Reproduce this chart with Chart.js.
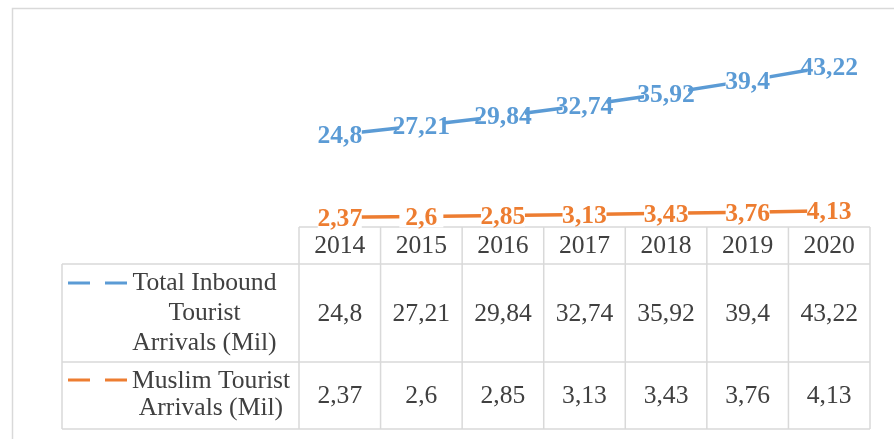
<!DOCTYPE html>
<html>
<head>
<meta charset="utf-8">
<script src="https://cdn.jsdelivr.net/npm/chart.js@4/dist/chart.umd.min.js"></script>
<style>
  html, body { margin: 0; padding: 0; background: #ffffff; }
  #wrap { width: 894px; height: 439px; }
</style>
</head>
<body>
<div id="wrap"><canvas id="c" width="894" height="439"></canvas></div>
<script>
const years = ['2014', '2015', '2016', '2017', '2018', '2019', '2020'];
const totalInbound = [24.8, 27.21, 29.84, 32.74, 35.92, 39.4, 43.22];
const muslimArrivals = [2.37, 2.6, 2.85, 3.13, 3.43, 3.76, 4.13];
const seriesNames = [
  ['Total Inbound', 'Tourist', 'Arrivals (Mil)'],
  ['Muslim Tourist', 'Arrivals (Mil)']
];
const blue = '#5B9BD5';
const orange = '#ED7D31';
const gridCol = '#d9d9d9';
const textCol = '#404040';
const fmt = v => String(v).replace('.', ',');

const tablePlugin = {
  id: 'dataTable',
  beforeDatasetsDraw(chart) {
    const ctx = chart.ctx;
    const xs = chart.scales.x;
    const band = chart.chartArea.width / years.length;
    const left = chart.chartArea.left, right = chart.chartArea.right;
    const legLeft = 62;
    const rowTop = 227, hdrBot = 264, r1Bot = 362, r2Bot = 429;
    ctx.save();
    ctx.strokeStyle = gridCol;
    ctx.lineWidth = 1.5;
    ctx.beginPath();
    ctx.moveTo(12.5, 439); ctx.lineTo(12.5, 8.5); ctx.lineTo(894, 8.5);
    ctx.stroke();
    ctx.lineWidth = 1.5;
    ctx.beginPath();
    ctx.moveTo(left, rowTop); ctx.lineTo(right, rowTop);
    ctx.moveTo(legLeft, hdrBot); ctx.lineTo(right, hdrBot);
    ctx.moveTo(legLeft, r1Bot); ctx.lineTo(right, r1Bot);
    ctx.moveTo(legLeft, r2Bot); ctx.lineTo(right, r2Bot);
    ctx.moveTo(legLeft, hdrBot); ctx.lineTo(legLeft, r2Bot);
    for (let i = 0; i <= years.length; i++) {
      const x = left + i * band;
      ctx.moveTo(x, rowTop); ctx.lineTo(x, r2Bot);
    }
    ctx.stroke();
    ctx.fillStyle = textCol;
    ctx.font = '25.6px "Liberation Serif", "Times New Roman", serif';
    ctx.textAlign = 'center';
    ctx.textBaseline = 'middle';
    years.forEach((y, i) => {
      const cx = xs.getPixelForValue(i);
      ctx.fillText(y, cx, 246.5);
      ctx.fillText(fmt(totalInbound[i]), cx, 314);
      ctx.fillText(fmt(muslimArrivals[i]), cx, 396);
    });
    const keyDraw = (col, y) => {
      ctx.strokeStyle = col;
      ctx.lineWidth = 3;
      ctx.beginPath();
      ctx.moveTo(68, y); ctx.lineTo(90, y);
      ctx.moveTo(105, y); ctx.lineTo(127, y);
      ctx.stroke();
    };
    keyDraw(blue, 283);
    keyDraw(orange, 380);
    ctx.fillStyle = textCol;
    const l1 = [283, 313, 343];
    seriesNames[0].forEach((t, i) => ctx.fillText(t, 204.5, l1[i]));
    const l2 = [381, 408];
    seriesNames[1].forEach((t, i) => ctx.fillText(t, 211, l2[i]));
    ctx.restore();
  },
  afterDatasetsDraw(chart) {
    const ctx = chart.ctx;
    ctx.save();
    ctx.font = 'bold 25.6px "Liberation Serif", "Times New Roman", serif';
    ctx.textAlign = 'center';
    ctx.textBaseline = 'middle';
    chart.data.datasets.forEach((ds, di) => {
      const meta = chart.getDatasetMeta(di);
      meta.data.forEach((pt, i) => {
        const label = fmt(ds.data[i]);
        ctx.fillStyle = '#ffffff';
        ctx.fillRect(pt.x - 22, pt.y - 9, 44, 20);
        ctx.fillStyle = ds.borderColor;
        ctx.fillText(label, pt.x, pt.y + 2);
      });
    });
    ctx.restore();
  }
};

new Chart(document.getElementById('c'), {
  type: 'line',
  data: {
    labels: years,
    datasets: [
      { label: 'Total Inbound Tourist Arrivals (Mil)', data: totalInbound, borderColor: blue, backgroundColor: blue, borderWidth: 3.5, pointRadius: 0, tension: 0 },
      { label: 'Muslim Tourist Arrivals (Mil)', data: muslimArrivals, borderColor: orange, backgroundColor: orange, borderWidth: 3.5, pointRadius: 0, tension: 0 }
    ]
  },
  options: {
    responsive: false,
    animation: false,
    layout: { padding: { left: 299, right: 24, top: 41.5, bottom: 213 } },
    plugins: { legend: { display: false }, tooltip: { enabled: false }, title: { display: false } },
    scales: {
      x: { type: 'category', offset: true, display: false },
      y: { min: 0, max: 50, display: false }
    }
  },
  plugins: [tablePlugin]
});
</script>
</body>
</html>
